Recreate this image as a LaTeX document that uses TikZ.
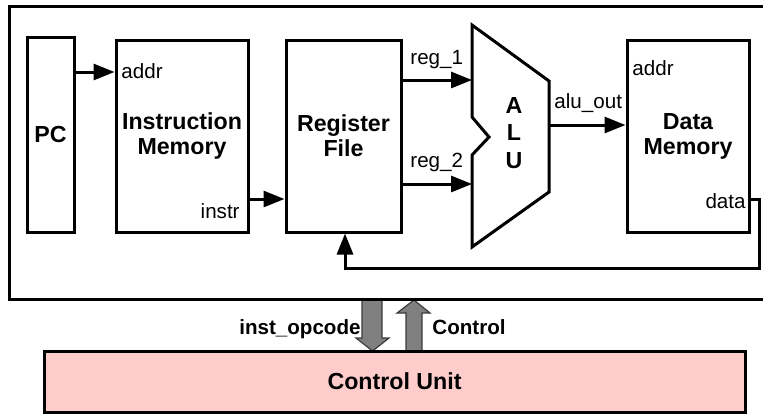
\documentclass[tikz,border=0pt]{standalone}
\usepackage{fontspec}
\setmainfont{Liberation Sans}
\usetikzlibrary{arrows.meta}
\definecolor{cupink}{RGB}{255,204,204}
\definecolor{busgray}{RGB}{128,128,128}
\definecolor{busedge}{RGB}{60,60,60}
\begin{document}
\begin{tikzpicture}[x=0.5pt,y=-0.5pt,
  blk/.style={draw, line width=1.5pt, inner sep=0pt, align=center,
    font=\bfseries\fontsize{11.6}{12.5}\selectfont},
  lbl/.style={inner sep=0pt, font=\fontsize{10.3}{12}\selectfont},
  blbl/.style={inner sep=0pt, font=\bfseries\fontsize{10.3}{12}\selectfont},
  arr/.style={line width=1.5pt, -{Triangle[length=10.5pt,width=8pt]}},
  bus/.style={fill=busgray, draw=busedge, line width=0.6pt, line join=miter},
]
\useasboundingbox (0,0) rectangle (763,414);

% buses between datapath and control unit
\path[bus] (362,299) -- (382,299) -- (382,338) -- (389,338) -- (372.5,351)
  -- (356,338) -- (362,338) -- cycle;
\path[bus] (406,351) -- (422,351) -- (422,313) -- (430,313) -- (414,300)
  -- (397,313) -- (406,313) -- cycle;

% datapath frame
\node[draw, line width=1.5pt, inner sep=0pt, minimum width=378.5pt,
  minimum height=146.5pt] (dp) at (387.5,152.5) {};

% blocks
\node[blk, minimum width=23.5pt, minimum height=97.5pt] (pc) at (50.5,134.5) {PC};
\node[blk, minimum width=66pt, minimum height=96pt] (im) at (182,136) {Instruction\\Memory};
\node[blk, minimum width=57.5pt, minimum height=96pt] (rf) at (343.5,136) {Register\\File};
\node[blk, minimum width=61pt, minimum height=96pt] (dm) at (688,136) {Data\\Memory};
\node[blk, fill=cupink, minimum width=350.5pt, minimum height=30.5pt] (cu) at (394.5,381.5) {Control Unit};

% ALU outline with notch
\draw[line width=1.5pt, line join=miter] (472,25) -- (549,81) -- (549,192)
  -- (472,247) -- (472,155) -- (489,137) -- (472,117) -- cycle;
\node[inner sep=0pt, align=center, font=\bfseries\fontsize{11.6}{13.75}\selectfont] (alu) at (514,133) {A\\L\\U};
\coordinate (alu-in1) at (472,80);
\coordinate (alu-in2) at (472,184);
\coordinate (alu-out) at (549,125);

% port labels
\node[lbl, anchor=base west] (imaddr) at (121,78) {addr};
\node[lbl, anchor=base east] (iminstr) at (240,218) {instr};
\node[lbl, anchor=base west] (reg1) at (410,64) {reg\_1};
\node[lbl, anchor=base west] (reg2) at (410,167) {reg\_2};
\node[lbl, anchor=base west] (aluout) at (554,108) {alu\_out};
\node[lbl, anchor=base west] (dmaddr) at (632,75) {addr};
\node[lbl, anchor=base east] (dmdata) at (746,208) {data};
\node[blbl, anchor=base east] (opc) at (361,334) {inst\_opcode};
\node[blbl, anchor=base west] (ctl) at (432,334) {Control};

% connectors
\draw[arr] (pc.east |- 0,72) -- (im.west |- 0,72);
\draw[arr] (im.east |- 0,199) -- (rf.west |- 0,199);
\draw[arr] (rf.east |- alu-in1) -- (alu-in1);
\draw[arr] (rf.east |- alu-in2) -- (alu-in2);
\draw[arr] (alu-out) -- (dm.west |- alu-out);
\coordinate (fb) at (759,268);
\draw[arr] (dm.east |- 0,199) -| (fb) -| (rf.south -| 345,0);
\end{tikzpicture}
\end{document}
